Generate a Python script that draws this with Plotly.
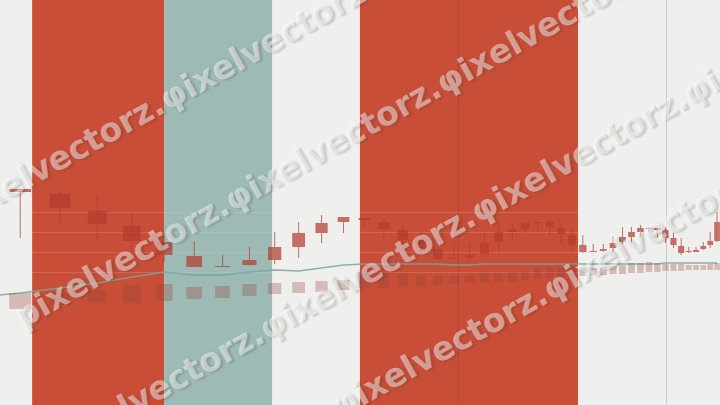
import plotly.graph_objects as go
import math

# ---- data ----
x_pos = [8.52, 9.21, 9.90, 10.59, 11.28, 11.96, 12.64, 13.32, 13.99, 14.66,
         15.33, 16.00, 16.66, 17.31, 17.96, 18.60, 19.23, 19.85, 20.46, 21.06,
         21.65, 22.23, 22.80, 23.36, 23.91, 24.45, 24.98, 25.51, 26.03, 26.55,
         27.06, 27.56, 28.05, 28.54, 29.02, 29.50, 29.97, 30.44, 30.90, 31.36,
         31.81, 32.26, 32.70, 33.14]
open_ = [161.5, 159, 150.5, 143, 135, 128, 123, 123.5, 126, 132.5,
         139.5, 145, 147, 145, 141, 137, 131.5, 127, 127, 129,
         135, 140, 141.5, 144.5, 145, 142, 138.5, 133.5, 130.5, 130.5,
         132, 135, 137.5, 140, 141.5, 142, 141, 137, 133, 130.5,
         130, 131.5, 133.5, 135.5]
high = [162, 160, 158, 150, 138, 135.5, 128.5, 132.5, 140, 145,
        148.5, 147.5, 147, 146.5, 143.5, 140, 136, 134.5, 134.5, 139.5,
        144.5, 145, 144.5, 145, 146, 144.5, 142, 138.5, 134, 134,
        137.5, 142.5, 142.5, 143.5, 142.5, 142.5, 142, 139.5, 137, 132.5,
        132.5, 135, 140, 150]
low = [137, 143.5, 135.5, 126, 125, 122.5, 122.5, 123, 124, 127,
       134.5, 139.5, 142, 137, 133.5, 128.5, 126, 126.5, 126.5, 127,
       130, 135, 139.5, 141, 138.5, 134, 130, 129.5, 130, 130,
       130, 134, 134.5, 137.5, 140, 137, 134.5, 132, 128.5, 129.5,
       130, 131, 132, 135]
close = [160, 152, 144, 135.5, 128.5, 122.5, 122.5, 126, 132.5, 139.5,
         144.5, 147.5, 146, 141.5, 136, 132, 126.5, 126.5, 128.5, 134.5,
         140, 141.5, 144.5, 145, 142.5, 139, 133.5, 130, 130, 131.5,
         134.5, 137.5, 140, 142, 142, 141, 137, 133.5, 129.5, 130,
         131, 133, 135.5, 145]

vol_top = [1120, 1120, 1150, 1200, 1210, 1180, 1190, 1210, 1220, 1230,
           1240, 1250, 1330, 1330, 1320, 1300, 1290, 1290, 1300, 1320,
           1320, 1330, 1340, 1380, 1380, 1380, 1380, 1370, 1370, 1380,
           1390, 1400, 1420, 1420, 1430, 1420, 1410, 1410, 1410, 1400,
           1400, 1400, 1410, 1420]
vol_base = [960, 1000, 1020, 1020, 1040, 1060, 1070, 1090, 1110, 1120,
            1130, 1150, 1170, 1170, 1180, 1180, 1200, 1210, 1220, 1220,
            1230, 1230, 1250, 1260, 1270, 1270, 1280, 1290, 1300, 1300,
            1310, 1310, 1320, 1320, 1330, 1330, 1340, 1340, 1340, 1350,
            1350, 1350, 1350, 1350]

line_x = [8.0] + x_pos
line_y = [108, 109.5, 112, 114.5, 117.5, 120, 118.5, 118.5, 120, 121, 120.5,
          122, 123.5, 124, 124, 124, 124, 124, 123.5, 123.5, 124,
          124, 124, 124, 124, 124, 124, 124, 124, 124, 124,
          124, 124, 124, 124, 124, 124, 124.5, 124.5, 124.5, 124.5,
          124.5, 124.5, 124.5, 124.5]

band_start = [8.72, 11.28, 16.52]
band_end = [11.28, 13.92, 25.27]
band_color = ["#c84e38", "#9dbab5", "#c84e38"]

grid_x = [20, 30]
grid_y = [120, 130, 140, 150]

wm_text = "pixelvectorz." + "φixelvectorz." * 4
wm_rows = [(-60, 237), (5, 338), (-172, 584), (-100, 662)]

CANDLE = "rgba(180,60,48,0.72)"

# candle bodies and wicks built from the OHLC lists
body_base = [min(o, c) for o, c in zip(open_, close)]
body_len = [max(abs(c - o), 0.5) for o, c in zip(open_, close)]
wick_x, wick_y = [], []
for xi, o, h, l, c in zip(x_pos, open_, high, low, close):
    top, bot = max(o, c), min(o, c)
    wick_x += [xi, xi, None, xi, xi, None]
    wick_y += [h, top, None, bot, l, None]

# ---- figure ----
fig = go.Figure()

fig.add_trace(go.Bar(
    x=x_pos, y=[t - b for t, b in zip(vol_top, vol_base)], base=vol_base,
    yaxis="y2", marker=dict(color="rgba(150,65,55,0.3)", line=dict(width=0)),
    showlegend=False, hoverinfo="skip"))

fig.add_trace(go.Scatter(
    x=wick_x, y=wick_y, mode="lines",
    line=dict(color=CANDLE, width=1), showlegend=False, hoverinfo="skip"))

fig.add_trace(go.Bar(
    x=x_pos, y=body_len, base=body_base,
    marker=dict(color=CANDLE, line=dict(width=0)),
    showlegend=False, hoverinfo="skip"))

fig.add_trace(go.Scatter(
    x=line_x, y=line_y, mode="lines",
    line=dict(color="rgba(120,165,160,0.85)", width=1.5),
    showlegend=False, hoverinfo="skip"))

for s, e, c in zip(band_start, band_end, band_color):
    fig.add_shape(type="rect", xref="x", yref="paper", x0=s, x1=e, y0=0, y1=1,
                  fillcolor=c, line=dict(width=0), layer="below")

for (px, py) in wm_rows:
    fig.add_annotation(
        text=wm_text, xref="paper", yref="paper",
        x=px / 720, y=1 - py / 405, xanchor="left", yanchor="bottom",
        textangle=-29, showarrow=False,
        font=dict(family="DejaVu Sans", size=33, weight="bold",
                  color="rgba(255,255,255,0.47)",
                  shadow="2px 2px 2px rgba(50,50,50,0.45)"))

fig.update_layout(
    width=720, height=405,
    margin=dict(l=0, r=0, t=0, b=0, pad=0, autoexpand=False),
    paper_bgcolor="#eff0ee", plot_bgcolor="#eff0ee",
    barmode="overlay", bargap=0.17,
    xaxis=dict(type="log", range=[math.log10(8.19), math.log10(33.33)],
               tickvals=grid_x, showticklabels=False, showgrid=True,
               gridcolor="rgba(70,45,40,0.2)", gridwidth=1, zeroline=False,
               showline=False, automargin=False),
    yaxis=dict(range=[53.5, 256], tickvals=grid_y, showticklabels=False,
               showgrid=True, gridcolor="rgba(225,225,225,0.18)",
               zeroline=False, showline=False, automargin=False),
    yaxis2=dict(range=[0, 4050], overlaying="y", visible=False,
                showgrid=False, zeroline=False),
    showlegend=False,
)

fig.write_html(
    "out.html",
    config={"displayModeBar": False},
    post_script="document.body.style.margin='0';document.body.style.overflow='hidden';",
)
